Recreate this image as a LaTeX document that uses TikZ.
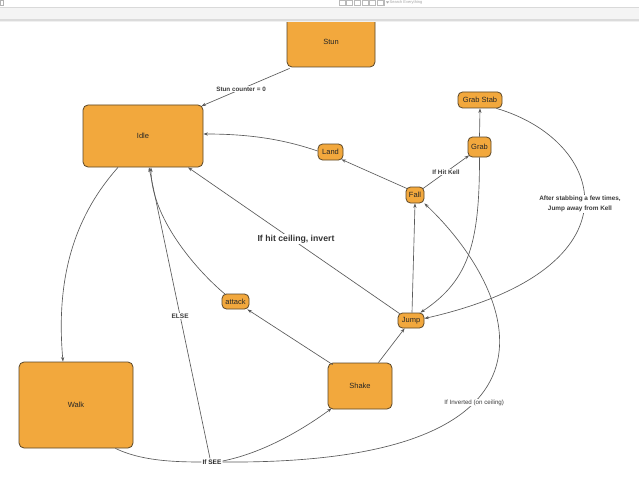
\documentclass[tikz,border=0pt]{standalone}
\usepackage{fontspec}
\setmainfont{Liberation Sans}
\usetikzlibrary{arrows.meta,calc}
\definecolor{boxfill}{HTML}{F2A83D}
\definecolor{boxborder}{HTML}{5A4628}
\definecolor{linegray}{HTML}{5A5A5A}
\definecolor{labelgray}{HTML}{3C3C3C}
\tikzset{
  bigstate/.style={draw=boxborder, fill=boxfill, rounded corners=5pt, line width=0.8pt,
    inner sep=0pt, text=black!85, font=\fontsize{7.5}{9}\selectfont},
  smallstate/.style={draw=boxborder, fill=boxfill, rounded corners=4.5pt, line width=0.8pt,
    inner sep=0pt, text=black!85, font=\fontsize{7.5}{9}\selectfont},
  edge/.style={draw=linegray, line width=0.65pt, -{Stealth[length=4.5pt,width=3.2pt]}},
  plainedge/.style={draw=linegray, line width=0.65pt},
  elabel/.style={fill=white, inner sep=1pt, text=labelgray, font=\bfseries\fontsize{6.3}{7.5}\selectfont},
  biglabel/.style={fill=white, inner sep=1pt, text=black!80, font=\bfseries\fontsize{8.7}{10}\selectfont},
  thinlabel/.style={fill=white, inner sep=1pt, text=labelgray, font=\fontsize{6.2}{7.5}\selectfont},
}
\begin{document}
\begin{tikzpicture}[x=1pt,y=-1pt]
\useasboundingbox (0,0) rectangle (639,476);
\fill[white] (0,0) rectangle (639,476);

% states
\node[bigstate, minimum width=88pt, minimum height=50pt] (Stun) at (331,42) {Stun};
\node[bigstate, minimum width=120pt, minimum height=62pt] (Idle) at (143,136) {Idle};
\node[bigstate, minimum width=114pt, minimum height=86pt] (Walk) at (76,405) {Walk};
\node[bigstate, minimum width=64pt, minimum height=46pt] (Shake) at (360,386) {Shake};
\node[smallstate, minimum width=25pt, minimum height=16pt] (Land) at (330.5,152) {Land};
\node[smallstate, minimum width=44pt, minimum height=16pt] (GrabStab) at (480,100) {Grab Stab};
\node[smallstate, minimum width=23pt, minimum height=20pt] (Grab) at (479.5,147) {Grab};
\node[smallstate, minimum width=18pt, minimum height=16pt] (Fall) at (415,195) {Fall};
\node[smallstate, minimum width=26pt, minimum height=15pt] (Jump) at (411,320.5) {Jump};
\node[smallstate, minimum width=27pt, minimum height=15pt] (attack) at (235.5,301.5) {attack};
\node[inner sep=1pt, text=black!85, font=\bfseries\fontsize{6.5}{7.5}\selectfont] (ifsee) at (212,462) {If SEE};

% toolbar (screenshot frame)
\fill[white] (0,0) rectangle (639,7.5);
\draw[gray!60, line width=0.4pt] (0,0) rectangle (3,5);
\foreach \i in {0,...,5} \draw[gray!55, line width=0.4pt] (339+\i*7.6,0.6) rectangle +(6,4.4);
\draw[gray!55, line width=0.4pt] (384,0) -- (384,6);
\fill[gray!70] (386,1.5) -- (389,1.5) -- (387.5,3.5) -- cycle;
\node[anchor=west, inner sep=0pt, text=gray!70, font=\fontsize{4}{4}\selectfont] (search) at (389.5,2.6) {Search Everything};
\fill[gray!30] (0,7.5) rectangle (639,8.5);
\fill[gray!9] (0,8.5) rectangle (639,19.5);
\fill[gray!28] (0,19.5) rectangle (639,21.5);
\fill[gray!12] (0,21.5) rectangle (639,22.3);

% connectors
\draw[edge] ($(Stun.south west)+(3,1)$) -- ($(Idle.north east)+(-2,1.5)$)
  node[elabel, pos=0.55] {Stun counter = 0};
\draw[edge] ($(Land.west)+(0,-1)$) .. controls +(-35,-12) and +(45,0) .. ($(Idle.east)+(0,-2)$);
\draw[edge] ($(Fall.north west)+(1.5,2)$) -- ($(Land.south east)+(-2,-1)$);
\draw[edge] ($(Fall.north east)+(-1.5,2)$) -- ($(Grab.south west)+(1.5,-2)$)
  node[elabel, pos=0.5] {If Hit Kell};
\draw[edge] (Grab.north) -- (GrabStab.south);
\draw[edge] (Grab.south) .. controls +(0,83) and +(50,-33) .. ($(Jump.north east)+(-4,0)$);
\draw[edge] ($(GrabStab.south east)+(-6,0)$) .. controls +(110,32) and +(220,-50) .. ($(Jump.east)+(0,-2)$);
\node[elabel, align=center, font=\bfseries\fontsize{6.4}{9.5}\selectfont] (stablabel) at (580,204)
  {After stabbing a few times,\\Jump away from Kell};
\draw[edge] ($(Jump.north)+(1,0)$) -- (Fall.south);
\draw[edge] ($(Jump.north west)+(2,1)$) -- ($(Idle.south)+(45,0)$);
\node[biglabel] (ceiling) at (296,239) {If hit ceiling, invert};
\draw[edge] ($(Shake.north east)+(-14,0)$) -- ($(Jump.south west)+(7,0)$);
\draw[edge] ($(Shake.north west)+(5,2)$) -- ($(attack.south east)+(-2,0)$);
\draw[edge] ($(attack.north west)+(4,1)$) .. controls +(-30,-25) and +(0,50) .. ($(Idle.south)+(8,0)$);
\draw[edge] ($(Idle.south)+(-25,0)$) .. controls +(-40,45) and +(-8,-90) .. ($(Walk.north)+(-13,0)$);
\draw[edge] ($(ifsee.north)+(-2,0)$) -- ($(Idle.south)+(6,0)$)
  node[elabel, pos=0.49, font=\bfseries\fontsize{6.5}{7.5}\selectfont] {ELSE};
\draw[plainedge] ($(Walk.south east)+(-18,0)$) .. controls +(25,12) and +(-30,0) .. (ifsee.west);
\draw[edge] ($(ifsee.east)+(0,-1)$) .. controls +(40,-8) and +(-30,22) .. ($(Shake.south west)+(4,-1)$);
\draw[edge] (ifsee.east) .. controls +(370,3) and +(90,85) .. (Fall.south east)
  node[thinlabel, pos=0.38] {If Inverted (on ceiling)};
\end{tikzpicture}
\end{document}
